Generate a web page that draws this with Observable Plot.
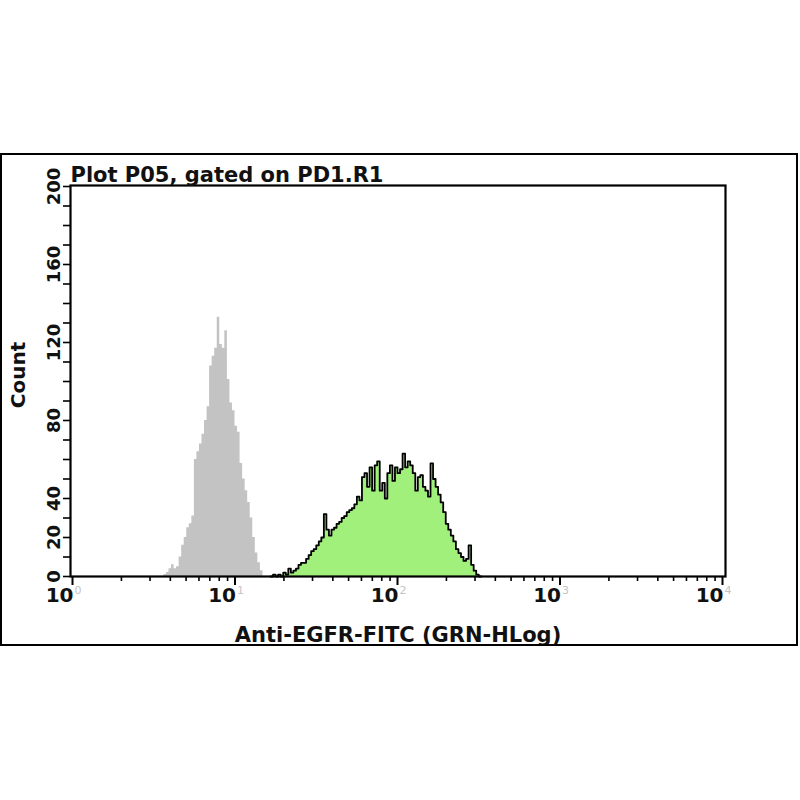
<!DOCTYPE html>
<html>
<head>
<meta charset="utf-8">
<script src="https://cdn.jsdelivr.net/npm/d3@7"></script>
<script src="https://cdn.jsdelivr.net/npm/@observablehq/plot@0.6"></script>
<style>
  html, body { margin: 0; padding: 0; background: #fff; }
  #wrap { position: relative; width: 800px; height: 800px; }
  #outer { position: absolute; left: 0px; top: 153px; width: 794px; height: 489px; border: 2px solid #000; pointer-events: none; }
  #chart { position: absolute; left: 0; top: 0; }
</style>
</head>
<body>
<div id="wrap"><div id="chart"></div><div id="outer"></div></div>
<script>
// ---- data ----
const title = "Plot P05, gated on PD1.R1";
const xLabel = "Anti-EGFR-FITC (GRN-HLog)";
const yLabel = "Count";
const channelsPerDecade = 64;           // 256 channels over 4 decades
const xMajorTicks = [1, 10, 100, 1000, 10000];
const yLabelTicks = [0, 20, 40, 80, 120, 160, 200];
const yMinorTicks = [0, 10, 20, 30, 40, 50, 60, 70, 80, 90, 100, 110, 120, 130, 140, 150, 160, 170, 180, 190, 200];

// isotype control (grey)
const controlStartChannel = 36;
const controlCounts = [1, 2, 4, 6, 4, 5, 10, 16, 20, 25, 27, 31, 60, 64, 68, 73, 80, 87, 108, 113,
  117, 133, 119, 117, 126, 101, 89, 85, 77, 74, 58, 50, 44, 38, 30, 20, 12, 7, 3];

// Anti-EGFR stained (green)
const stainedStartChannel = 78;
const stainedCounts = [0, 1, 0, 1, 0, 2, 1, 4, 2, 3, 4, 6, 7, 7, 9, 11, 13, 14, 16, 18,
  20, 32, 24, 21, 24, 25, 27, 28, 30, 31, 33, 34, 35, 37, 41, 39, 51, 53, 46, 56,
  44, 57, 59, 44, 48, 40, 53, 57, 49, 56, 53, 55, 63, 56, 59, 57, 53, 44, 51, 52,
  46, 44, 41, 58, 50, 46, 42, 38, 33, 27, 24, 21, 18, 14, 12, 10, 8, 9, 16, 6,
  3, 1, 0];

// ---- derived tables ----
const toSteps = (start, counts) => {
  const pts = [{x: Math.pow(10, start / channelsPerDecade), y: 0}];
  counts.forEach((c, k) => pts.push({x: Math.pow(10, (start + k) / channelsPerDecade), y: c}));
  pts.push({x: Math.pow(10, (start + counts.length) / channelsPerDecade), y: 0});
  return pts;
};
const controlSteps = toSteps(controlStartChannel, controlCounts);
const stainedSteps = toSteps(stainedStartChannel, stainedCounts);
const xMinorTicks = [];
for (let d = 0; d < 4; d++) for (let m = 2; m <= 9; m++) xMinorTicks.push(m * Math.pow(10, d));

const font = "DejaVu Sans";

const chart = Plot.plot({
  width: 800,
  height: 800,
  marginLeft: 70,
  marginRight: 75,
  marginTop: 185,
  marginBottom: 224,
  style: {fontFamily: font, background: "transparent"},
  x: {type: "log", domain: [1, 10000], range: [72, 722], axis: null, label: null},
  y: {domain: [0, 200], range: [576, 186], axis: null, label: null},
  marks: [
    Plot.areaY(controlSteps, {x: "x", y: "y", curve: "step-after", fill: "#c3c3c3"}),
    Plot.areaY(stainedSteps, {x: "x", y: "y", curve: "step-after", fill: "#a1f07c"}),
    Plot.line(stainedSteps, {x: "x", y: "y", curve: "step-after", stroke: "#000", strokeWidth: 1.8}),
    Plot.frame({stroke: "#000", strokeWidth: 2.2}),
    // x axis ticks
    Plot.axisX(xMinorTicks, {anchor: "bottom", tickSize: 5, tickFormat: () => "", label: null, strokeWidth: 1.6, stroke: "#000"}),
    Plot.axisX(xMajorTicks, {anchor: "bottom", tickSize: 9, tickFormat: () => "", label: null, strokeWidth: 2, stroke: "#000"}),
    Plot.text(xMajorTicks, {x: d => d, text: () => "10", frameAnchor: "bottom", dy: 25, dx: 1,
      textAnchor: "end", lineAnchor: "bottom", fontSize: 20, fontWeight: "bold", fill: "#111"}),
    Plot.text(xMajorTicks, {x: d => d, text: d => String(Math.round(Math.log10(d))), frameAnchor: "bottom",
      dy: 17, dx: 2, textAnchor: "start", lineAnchor: "bottom", fontSize: 11, fill: "#c4c4c4"}),
    // y axis ticks
    Plot.axisY(yMinorTicks, {anchor: "left", tickSize: 7, tickFormat: () => "", label: null, strokeWidth: 1.6, stroke: "#000"}),
    Plot.text(yLabelTicks, {y: d => d, text: d => String(d), frameAnchor: "left", rotate: -90,
      dx: -11, textAnchor: "middle", lineAnchor: "bottom", fontSize: 18, fontWeight: "bold", fill: "#111"}),
    // titles
    Plot.text([title], {text: d => d, frameAnchor: "top-left", dy: -4, dx: 0, textAnchor: "start",
      lineAnchor: "bottom", fontSize: 21, fontWeight: "bold", fill: "#111"}),
    Plot.text([xLabel], {text: d => d, frameAnchor: "bottom", dy: 65, textAnchor: "middle",
      lineAnchor: "bottom", fontSize: 21, fontWeight: "bold", fill: "#111"}),
    Plot.text([yLabel], {text: d => d, frameAnchor: "left", rotate: -90, dx: -52, dy: -6,
      textAnchor: "middle", lineAnchor: "middle", fontSize: 20, fontWeight: "bold", fill: "#111"})
  ]
});
document.getElementById("chart").appendChild(chart);
</script>
</body>
</html>
